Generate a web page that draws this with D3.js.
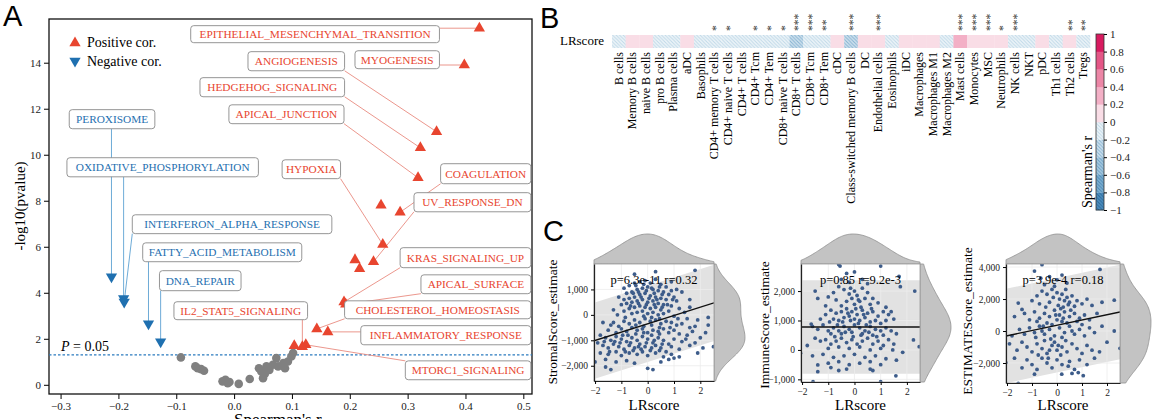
<!DOCTYPE html>
<html>
<head>
<meta charset="utf-8">
<script src="https://cdn.jsdelivr.net/npm/d3@7"></script>
<style>
  body { margin: 0; background: #fff; }
  svg { display: block; font-family: "Liberation Serif", "Times New Roman", serif; }
  svg text { font-family: "Liberation Serif", "Times New Roman", serif; }
  svg text.letter { font-family: "Liberation Sans", Arial, sans-serif; }
</style>
</head>
<body>
<svg id="fig" width="1164" height="419"></svg>
<script>
// ---------- panel A: hallmark gene sets (spearman rho, -log10 p) ----------
const posNames = ['EPITHELIAL_MESENCHYMAL_TRANSITION','MYOGENESIS','ANGIOGENESIS','HEDGEHOG_SIGNALING',
  'APICAL_JUNCTION','COAGULATION','HYPOXIA','UV_RESPONSE_DN','KRAS_SIGNALING_UP','APICAL_SURFACE',
  'CHOLESTEROL_HOMEOSTASIS','INFLAMMATORY_RESPONSE','MTORC1_SIGNALING','IL2_STAT5_SIGNALING','','','',''];
const posRho  = [0.424,0.398,0.350,0.322,0.318,0.287,0.257,0.241,0.190,0.193,0.143,0.162,0.124,0.118,0.254,0.209,0.217,0.104];
const posLogP = [15.5,13.9,11.0,10.3,9.0,7.5,6.1,5.35,3.6,3.5,2.43,2.3,1.74,1.65,7.8,5.43,5.04,1.7];

const negNames = ['PEROXISOME','OXIDATIVE_PHOSPHORYLATION','INTERFERON_ALPHA_RESPONSE','FATTY_ACID_METABOLISM','DNA_REPAIR'];
const negRho  = [-0.212,-0.191,-0.190,-0.148,-0.127];
const negLogP = [4.7,3.75,3.6,2.65,1.87];

const nsRho  = [-0.092,-0.067,-0.063,-0.057,-0.052,-0.020,-0.015,-0.011,-0.008,0.008,0.027,0.043,0.050,
  0.053,0.047,0.056,0.061,0.067,0.073,0.076,0.085,0.088,0.093,0.099,0.102];
const nsLogP = [1.19,0.80,0.72,0.68,0.61,0.15,0.22,0.07,0.12,0.04,0.25,0.72,0.29,
  0.47,0.58,0.80,0.65,0.87,1.16,0.80,0.94,0.72,1.01,1.23,1.38];

const pCut = 0.05;
const xTicksA = [-0.3,-0.2,-0.1,0.0,0.1,0.2,0.3,0.4,0.5];
const yTicksA = [0,2,4,6,8,10,12,14];

// label box layout in data units: [rho left, rho right, top, bottom]
const labelBoxes = {
  EPITHELIAL_MESENCHYMAL_TRANSITION: [-0.075,0.355,15.61,14.87],
  ANGIOGENESIS: [0.024,0.191,14.48,13.65],
  MYOGENESIS: [0.209,0.355,14.52,13.74],
  HEDGEHOG_SIGNALING: [-0.059,0.191,13.35,12.52],
  APICAL_JUNCTION: [-0.009,0.190,12.17,11.35],
  HYPOXIA: [0.083,0.184,9.78,8.96],
  COAGULATION: [0.357,0.513,9.61,8.74],
  UV_RESPONSE_DN: [0.311,0.513,8.35,7.52],
  KRAS_SIGNALING_UP: [0.287,0.513,5.96,5.09],
  APICAL_SURFACE: [0.323,0.513,4.78,3.96],
  CHOLESTEROL_HOMEOSTASIS: [0.191,0.513,3.65,2.87],
  INFLAMMATORY_RESPONSE: [0.219,0.513,2.57,1.74],
  MTORC1_SIGNALING: [0.296,0.513,1.04,0.22],
  IL2_STAT5_SIGNALING: [-0.104,0.127,3.61,2.83],
  PEROXISOME: [-0.285,-0.137,11.96,11.13],
  OXIDATIVE_PHOSPHORYLATION: [-0.289,0.042,9.87,9.04],
  INTERFERON_ALPHA_RESPONSE: [-0.176,0.169,7.39,6.57],
  FATTY_ACID_METABOLISM: [-0.158,0.117,6.17,5.35],
  DNA_REPAIR: [-0.129,0.012,4.96,4.09]
};

// ---------- panel B: LRscore vs immune cell infiltration ----------
const cellTypes = ['B cells','Memory B cells','naive B cells','pro B cells','Plasma cells','aDC','Basophils',
  'CD4+ memory T cells','CD4+ naive T cells','CD4+ T cells','CD4+ Tcm','CD4+ Tem','CD8+ naive T cells',
  'CD8+ T cells','CD8+ Tcm','CD8+ Tem','cDC','Class-switched memory B cells','DC','Endothelial cells',
  'Eosinophils','iDC','Macrophages','Macrophages M1','Macrophages M2','Mast cells','Monocytes','MSC',
  'Neutrophils','NK cells','NKT','pDC','Th1 cells','Th2 cells','Tregs'];
const cellCor = [-0.08,0.06,0.05,-0.07,-0.06,0.05,-0.05,-0.12,-0.11,-0.07,-0.12,-0.12,-0.12,
  -0.22,-0.18,-0.15,0.07,-0.21,0.08,0.17,-0.06,0.08,0.09,0.07,-0.07,0.25,0.17,0.17,
  0.12,-0.17,-0.06,0.08,-0.07,0.14,-0.14];
const cellSig = ['','','','','','','','*','*','','*','*','*','***','***','**','','***','','***',
  '','','','','','***','***','***','*','***','','','','**','**'];
const cbTicks = [-1,-0.8,-0.6,-0.4,-0.2,0,0.2,0.4,0.6,0.8,1];

// ---------- panel C: LRscore vs ESTIMATE scores ----------
const stromalPts = [
  [-0.9,1050],[-0.7,1150],[-0.5,1250],[-0.3,1300],[-0.1,1350],[0.1,1250],[0.3,1400],[0.5,1200],[0.7,1100],[0.9,950],
  [-0.8,850],[-0.6,900],[-0.4,1000],[-0.2,1050],[0,1100],[0.2,1000],[0.4,950],[0.6,900],[0.8,800],[1.0,700],
  [-0.9,600],[-0.7,650],[-0.5,700],[-0.3,800],[-0.1,850],[0.1,750],[0.3,700],[0.5,650],[0.7,600],[1.1,550],
  [-1.0,400],[-0.8,450],[-0.6,500],[-0.4,550],[-0.2,600],[0.0,500],[0.2,550],[0.4,450],[0.6,400],[0.9,350],
  [-0.7,250],[-0.5,300],[-0.3,350],[-0.1,300],[0.1,250],[0.3,300],[0.5,200],[0.8,150],[1.2,250],[1.4,100],
  [-0.6,50],[-0.4,100],[-0.2,150],[0,50],[0.2,100],[0.4,0],[0.6,50],[-0.9,150],[1.0,-50],[1.5,-150],
  [-1.3,-300],[-1.1,-450],[-0.9,-250],[-0.7,-350],[-0.5,-200],[-0.3,-300],[-0.1,-150],[0.1,-250],[0.3,-200],[0.5,-350],
  [0.7,-250],[0.9,-300],[1.1,-400],[1.3,-350],[1.6,-500],[1.8,-450],
  [-1.5,-600],[-1.2,-700],[-1.0,-550],[-0.8,-650],[-0.6,-500],[-0.4,-600],[-0.2,-550],[0,-700],[0.2,-600],[0.4,-650],
  [0.6,-550],[0.8,-700],[1.0,-600],[1.2,-750],[1.5,-800],[1.7,-650],
  [-1.6,-900],[-1.4,-1000],[-1.2,-850],[-1.0,-950],[-0.8,-1050],[-0.6,-900],[-0.4,-1000],[-0.2,-850],[0.0,-950],[0.2,-1100],
  [0.4,-900],[0.6,-1000],[0.8,-1150],[1.0,-950],[1.3,-1050],
  [-1.7,-1200],[-1.5,-1300],[-1.3,-1150],[-1.1,-1250],[-0.9,-1350],[-0.7,-1200],[-0.5,-1300],[-0.3,-1150],[-0.1,-1250],[0.1,-1400],
  [0.3,-1200],[0.5,-1300],[0.7,-1450],[0.9,-1250],[1.2,-1350],
  [-1.8,-1500],[-1.5,-1550],[-1.2,-1450],[-1.0,-1600],[-0.7,-1500],[-0.4,-1550],[-0.2,-1450],[0.0,-1600],[0.3,-1500],[0.6,-1650],[0.9,-1550],
  [-2.0,-1850],[-1.6,-2050],[-1.4,-2150],[-1.6,-1750],[-1.2,-1850],[-0.8,-1800],[-0.5,-1900],[0.0,-2100],[0.2,-2150],[0.5,-1850],
  [0.8,-1750],[1.0,-1700],[1.2,-1650],[1.8,-1100],[2.0,-900],[2.2,-700],[2.3,-100],[2.3,-400],[2.5,-1250],[1.8,1750],
  [1.6,600],[1.9,-200],[-1.7,-300],[-1.9,-1100],[-1.8,-800],[-1.4,-400],[-1.3,200],[1.3,900],[1.6,300],[-0.5,1600],
  [0.3,1700],[0.9,1300],[1.1,1000],[-1.1,700],
  [-0.45,1150],[-0.15,1200],[0.15,1050],[0.45,1100],[-0.35,900],[-0.05,950],[0.25,850],[0.55,800],[-0.55,850],[0.05,650],
  [0.35,600],[-0.25,700],[-0.65,350],[-0.35,450],[-0.05,400],[0.25,400],[0.55,300],[-0.15,-50],[0.15,-100],[0.45,-150],
  [-0.45,-400],[-0.15,-450],[0.15,-400],[0.45,-500],[-0.75,-800],[-0.45,-750],[-0.15,-700],[0.15,-800],[0.45,-750],[-0.95,-800],
  [-0.65,-1100],[-0.35,-1250],[-0.05,-1100],[0.25,-1000],[0.55,-1150],[-1.25,-1050],[-0.85,-1450],[-0.55,-1400],[-0.25,-1350],[0.15,-1300],
  [0.45,-1400],[-1.05,-1100],[0.85,-500],[1.15,-150],[0.75,400],[0.95,600],[-0.85,-100],[-1.15,0],[1.45,-950],[1.6,-1200],
  [2.1,-1300],[1.9,-1500],[-1.45,-1450],[-1.65,-1050]
];
const immunePts = [
  [-0.6,2900],[-0.55,2850],[1.0,2850],[-0.3,2600],[0.0,2650],[0.3,2400],[-0.2,2300],[-0.5,2400],[0.5,2250],[1.7,2500],
  [-1.5,2000],[2.3,2000],[-1.4,1750],[1.75,2150],
  [-0.8,1950],[-0.6,2150],[-0.4,2050],[-0.2,1900],[0.0,2000],[0.1,1850],[0.3,2100],[0.5,1950],[0.7,1750],[-1.0,1800],
  [-0.7,1700],[-0.3,1650],[-0.1,1750],[0.2,1650],[0.4,1750],[0.6,1550],[0.9,1600],[1.2,1450],[1.4,1300],[-1.1,1500],
  [-0.5,1500],[0.0,1550],[0.25,1450],
  [-1.3,1050],[-1.1,1200],[-0.9,1350],[-0.7,1250],[-0.5,1300],[-0.3,1400],[-0.1,1300],[0.1,1200],[0.3,1350],[0.5,1250],
  [0.7,1300],[0.9,1150],[1.1,1300],[1.3,1200],[-0.8,1050],[-0.6,1000],[-0.4,1100],[-0.2,1150],[0.0,1050],[0.2,1000],
  [0.4,1100],[0.6,950],[0.8,1000],[1.0,900],[1.2,1000],[1.5,1050],
  [-1.6,800],[-1.4,700],[-1.2,850],[-1.0,650],[-0.8,750],[-0.6,650],[-0.4,800],[-0.2,700],[0.0,850],[0.2,750],
  [0.4,650],[0.6,800],[0.8,700],[1.0,650],[1.2,750],[1.4,650],[1.6,550],[-0.9,550],[-0.5,550],[-0.1,600],
  [0.3,550],[0.7,500],[1.1,500],[-1.65,880],
  [-1.5,400],[-1.3,300],[-1.1,350],[-0.9,200],[-0.7,300],[-0.5,400],[-0.3,250],[-0.1,350],[0.1,200],[0.3,300],
  [0.5,400],[0.7,200],[0.9,300],[1.1,150],[1.3,350],[1.5,200],[2.25,340],[2.47,110],[-1.8,150],[-1.0,50],
  [-0.6,100],[-0.2,50],[0.2,100],[0.6,0],[1.0,50],[1.46,0],[1.84,-80],
  [-2.06,-110],[-1.6,-200],[-1.2,-150],[-0.8,-250],[-0.4,-200],[0.0,-150],[0.4,-250],[0.8,-200],[1.2,-300],[-1.4,-510],
  [-1.0,-450],[-0.6,-400],[-0.2,-500],[0.2,-450],[0.6,-400],[1.0,-500],[1.6,-350],[-1.4,-740],[-0.6,-700],[-0.3,-650],
  [0.6,-650],[0.7,-700],[-1.58,-1080],[1.0,-1080],[1.58,-880],[-0.9,-600],
  [-0.45,950],[-0.15,1000],[0.15,900],[0.45,850],[-0.35,600],[-0.05,450],[0.25,500],[0.55,600],[-0.25,1250],[0.05,1400],
  [0.35,1200],[-0.65,850],[0.85,450],[-0.75,450],[0.15,1700],[-0.15,2100],[0.65,1400],[-0.95,950]
];
const estimatePts = [
  [-0.6,4150],[-0.9,3750],[1.72,3850],[-0.65,3300],[-0.3,3400],[0.0,3200],[0.4,3000],[-0.5,2900],[0.2,3500],[-0.1,2800],
  [-1.55,1750],[-1.4,1350],[-1.0,1900],[-0.8,2200],[-0.6,2500],[-0.4,2300],[-0.2,2600],[0.0,2400],[0.1,2000],[0.2,2300],
  [0.3,1900],[0.4,2100],[0.5,1800],[0.6,2200],[0.8,1900],[1.0,1700],[1.2,2000],[1.4,1600],[1.8,1800],[2.29,1930],
  [-0.7,1700],[-0.3,1800],[0.05,1600],[0.25,1500],[0.45,1650],[0.7,1550],
  [-1.7,900],[-1.3,1100],[-1.1,700],[-0.9,1200],[-0.7,800],[-0.5,1100],[-0.3,900],[-0.1,1300],[0.1,1000],[0.3,1200],
  [0.5,900],[0.7,1100],[0.9,800],[1.1,1000],[1.3,700],[1.6,1100],[-0.8,600],[-0.4,500],[0.0,700],[0.2,600],
  [0.4,500],[0.8,600],[1.0,400],[-0.2,400],
  [-1.8,-300],[-1.5,100],[-1.3,-200],[-1.1,200],[-0.9,-100],[-0.7,300],[-0.5,-200],[-0.3,100],[-0.1,-300],[0.1,200],
  [0.3,-100],[0.5,300],[0.7,-200],[0.9,100],[1.1,-300],[1.3,200],[1.5,-100],[1.8,300],[2.29,0],[-0.6,0],
  [0.2,-400],[0.6,0],
  [-1.9,-800],[-1.6,-1200],[-1.4,-700],[-1.2,-1000],[-1.0,-1300],[-0.8,-800],[-0.6,-1100],[-0.4,-1400],[-0.2,-900],[0.0,-1200],
  [0.2,-1000],[0.4,-1300],[0.6,-800],[0.8,-1100],[1.0,-1400],[1.2,-900],[1.4,-1200],[1.7,-1300],[2.0,-700],[2.52,-1080],
  [-0.5,-600],[-0.1,-700],[-0.3,-1200],
  [-2.05,-1980],[-1.7,-1700],[-1.4,-2300],[-1.2,-1800],[-1.0,-2100],[-0.8,-2400],[-0.6,-1700],[-0.4,-2000],[-0.2,-2300],[0.0,-1800],
  [0.2,-2100],[0.19,-2700],[0.5,-1900],[0.7,-2400],[0.9,-1800],[1.05,-2790],[1.2,-2100],[1.5,-1700],[-1.55,-3270],[-0.9,-2700],
  [0.85,-2600],[0.6,-2650],
  [-0.45,1500],[-0.15,2100],[0.15,1400],[0.35,2600],[0.55,1300],[-0.55,300],[-0.25,-500],[0.05,-900],[0.35,-600],[-0.75,-1500],
  [-0.35,-1700],[0.15,-1500],[0.45,-2200],[-0.05,1000],[0.25,800],[-0.85,-400]
];
// fitted line (intercept, slope) and band half width
const stromalFit = [-353, 327, 1500];
const immuneFit = [780, 0, 1590];
const estimateFit = [361, 329, 2950];
const stromalStat = 'p=6.3e-11 r=0.32';
const immuneStat = 'p=0.85 r=9.2e-3';
const estimateStat = 'p=3.9e-4 r=0.18';
const lrTicks = [-2,-1,0,1,2];

const RED = '#e8452f', BLUE = '#1f70b0';
const SERIF = '"Liberation Serif", "Times New Roman", serif';
const svg = d3.select('#fig');
const defs = svg.append('defs');
svg.append('rect').attr('width',1164).attr('height',419).attr('fill','#fff');

function panelLetter(t, x, y){
  svg.append('text').attr('class','letter').attr('x',x).attr('y',y).text(t).attr('font-size',29);
}
function serifTicks(g, size){
  g.attr('font-family', SERIF);
  g.selectAll('text').style('font-family', SERIF).attr('font-size', size).attr('fill','#222');
}

// =================== A ===================
const xA = d3.scaleLinear().domain([-0.32,0.515]).range([49,532]);
const yA = d3.scaleLinear().domain([-0.4,15.9]).range([394,19]);
const gA = svg.append('g');
panelLetter('A', 3, 26);

gA.append('g').attr('transform','translate(0,394)')
  .call(d3.axisBottom(xA).tickValues(xTicksA).tickFormat(d3.format('.1f')).tickSize(5).tickSizeOuter(0))
  .call(g => g.select('.domain').remove())
  .call(g => serifTicks(g, 11));
gA.append('g').attr('transform','translate(49,0)')
  .call(d3.axisLeft(yA).tickValues(yTicksA).tickSize(5).tickSizeOuter(0))
  .call(g => g.select('.domain').remove())
  .call(g => serifTicks(g, 11));
gA.append('rect').attr('x',49).attr('y',19).attr('width',532-49).attr('height',394-19)
  .attr('fill','none').attr('stroke','#111').attr('stroke-width',1.3);

gA.append('text').attr('transform','translate(25,206) rotate(-90)').attr('text-anchor','middle')
  .attr('font-size',15).text('-log10(pvalue)');
gA.append('text').attr('x',234).attr('y',425).attr('font-size',17).text("Spearman's r");

// significance line
const yCut = yA(-Math.log10(pCut));
gA.append('line').attr('x1',49).attr('x2',532).attr('y1',yCut).attr('y2',yCut)
  .attr('stroke','#2b7bbf').attr('stroke-width',1.1).attr('stroke-dasharray','2.5,2');
const pt = gA.append('text').attr('x',61).attr('y',yCut-4).attr('font-size',14);
pt.append('tspan').attr('font-style','italic').text('P');
pt.append('tspan').text(' = ' + pCut.toFixed(2));

// points
const posData = posNames.map((n,i)=>({name:n, x:posRho[i], y:posLogP[i], col:RED, up:true}));
const negData = negNames.map((n,i)=>({name:n, x:negRho[i], y:negLogP[i], col:BLUE, up:false}));
const nsData = nsRho.map((r,i)=>({x:r, y:nsLogP[i]}));

// connectors from the nearest box edge to the point, then boxes
const lineGroup = gA.append('g');
const labGroup = gA.append('g');
posData.concat(negData).filter(d => d.name && labelBoxes[d.name]).forEach(d => {
  const b = labelBoxes[d.name];
  const x0 = xA(b[0]), x1 = xA(b[1]), y0 = yA(b[2]), y1 = yA(b[3]);
  const px = xA(d.x), py = yA(d.y);
  const nx = Math.max(x0, Math.min(x1, px)), ny = Math.max(y0, Math.min(y1, py));
  lineGroup.append('line').attr('x1',nx).attr('y1',ny).attr('x2',px).attr('y2',py)
    .attr('stroke', d.up ? '#e98b80' : '#5ea2d2').attr('stroke-width',0.9);
  labGroup.append('rect').attr('x',x0).attr('y',y0).attr('width',x1-x0).attr('height',y1-y0)
    .attr('rx',3).attr('fill','#fff').attr('stroke','#8a8a8a').attr('stroke-width',0.9);
  labGroup.append('text').attr('x',(x0+x1)/2).attr('y',(y0+y1)/2+4).attr('text-anchor','middle')
    .attr('font-size',11.3).attr('fill',d.col).text(d.name);
});

gA.append('g').selectAll('circle').data(nsData).join('circle')
  .attr('cx',d=>xA(d.x)).attr('cy',d=>yA(d.y)).attr('r',4.3).attr('fill','#808080');
const tri = d3.symbol().type(d3.symbolTriangle).size(55);
gA.append('g').selectAll('path').data(posData.concat(negData)).join('path')
  .attr('d', tri)
  .attr('transform', d => `translate(${xA(d.x)},${yA(d.y)}) rotate(${d.up?0:180})`)
  .attr('fill', d => d.col);
labGroup.raise();

// legend
gA.append('path').attr('d',tri).attr('transform','translate(75,43)').attr('fill',RED);
gA.append('text').attr('x',87).attr('y',47).attr('font-size',14).text('Positive cor.');
gA.append('path').attr('d',tri).attr('transform','translate(75,61) rotate(180)').attr('fill',BLUE);
gA.append('text').attr('x',87).attr('y',66).attr('font-size',14).text('Negative cor.');

// =================== B ===================
panelLetter('B', 540, 28);
const gB = svg.append('g');
const xB = d3.scaleBand().domain(cellTypes).range([612,1090]);
const hmTop = 35, hmBot = 48;

const posCols = ['#f9dde6','#f3b0c6','#ec86a6','#e45686','#d81b60'];
const negBg   = ['#eef5f9','#d0e2ee','#abcce1','#80b1d1','#4f8fbf'];
const negLine = ['#bfd8e8','#86b3d2','#6aa0c6','#4a88b6','#2a6a9c'];
negBg.forEach((c,i) => {
  const p = defs.append('pattern').attr('id','hatch'+i).attr('patternUnits','userSpaceOnUse')
    .attr('width',3.5).attr('height',3.5);
  p.append('rect').attr('width',3.5).attr('height',3.5).attr('fill',c);
  p.append('path').attr('d','M-1,-1 L4.5,4.5 M-1,2.5 L1,4.5 M2.5,-1 L4.5,1')
    .attr('stroke',negLine[i]).attr('stroke-width',1);
});
const bin = v => Math.min(4, Math.floor(Math.abs(v)/0.2 + 1e-9));
const fillFor = v => v >= 0 ? posCols[bin(v)] : `url(#hatch${bin(v)})`;

gB.selectAll('rect.cell').data(cellTypes).join('rect').attr('class','cell')
  .attr('x', d => xB(d)).attr('y', hmTop).attr('width', xB.bandwidth()+0.3).attr('height', hmBot-hmTop)
  .attr('fill', (d,i) => fillFor(cellCor[i]));
gB.append('text').attr('x',604).attr('y',45).attr('text-anchor','end').attr('font-size',13).text('LRscore');
gB.selectAll('text.cl').data(cellTypes).join('text').attr('class','cl')
  .attr('transform', d => `translate(${xB(d)+xB.bandwidth()/2+4},52) rotate(-90)`)
  .attr('text-anchor','end').attr('font-size',12).text(d => d);
gB.selectAll('text.sig').data(cellTypes).join('text').attr('class','sig')
  .attr('transform', d => `translate(${xB(d)+xB.bandwidth()/2+6},31) rotate(-90)`)
  .attr('text-anchor','start').attr('font-size',11.5).attr('fill','#333')
  .text((d,i) => cellSig[i]);

// colour bar
const yCb = d3.scaleLinear().domain([-1,1]).range([210,34]);
const cbBins = d3.range(10).map(i => -1 + i*0.2);
gB.selectAll('rect.cb').data(cbBins).join('rect').attr('class','cb')
  .attr('x',1096).attr('width',8).attr('y', d => yCb(d+0.2)).attr('height', d => yCb(d)-yCb(d+0.2)+0.3)
  .attr('fill', d => fillFor(d+0.1));
gB.append('rect').attr('x',1096).attr('y',34).attr('width',8).attr('height',176)
  .attr('fill','none').attr('stroke','#333').attr('stroke-width',0.8);
gB.append('g').attr('transform','translate(1104,0)')
  .call(d3.axisRight(yCb).tickValues(cbTicks).tickSize(3).tickFormat(d => d === 0 ? '0' : d3.format('.1~f')(d)))
  .call(g => g.select('.domain').remove())
  .call(g => serifTicks(g, 11));
gB.append('text').attr('transform','translate(1092,172) rotate(-90)').attr('text-anchor','middle')
  .attr('font-size',14).text("Spearman's r");

// =================== C ===================
panelLetter('C', 543, 241);

function kde(values, bw, grid){
  return grid.map(g => [g, d3.mean(values, v => Math.exp(-0.5*((g-v)/bw)**2))]);
}

function scatterPanel(o){
  const x = d3.scaleLinear().domain(o.xDom).range([o.left,o.right]);
  const y = d3.scaleLinear().domain(o.yDom).range([o.bottom,o.top]);
  const g = svg.append('g');
  const cid = 'clip'+o.id;
  defs.append('clipPath').attr('id',cid).append('rect')
    .attr('x',o.left).attr('y',o.top).attr('width',o.right-o.left).attr('height',o.bottom-o.top);

  // marginal densities
  const xs = o.pts.map(d=>d[0]), ys = o.pts.map(d=>d[1]);
  const gx = d3.range(101).map(i => o.xDom[0] + i*(o.xDom[1]-o.xDom[0])/100);
  const gy = d3.range(101).map(i => o.yDom[0] + i*(o.yDom[1]-o.yDom[0])/100);
  const dX = kde(xs, 0.42, gx), dY = kde(ys, o.bwY, gy);
  const mX = d3.max(dX, d=>d[1]), mY = d3.max(dY, d=>d[1]);
  g.append('path').datum(dX)
    .attr('d', d3.area().x(d=>x(d[0])).y0(o.top).y1(d=>o.top - d[1]/mX*30).curve(d3.curveBasis))
    .attr('fill','#c3c3c3').attr('stroke','#8f8f8f').attr('stroke-width',0.8);
  g.append('path').datum(dY)
    .attr('d', d3.area().y(d=>y(d[0])).x0(o.right).x1(d=>o.right + d[1]/mY*31).curve(d3.curveBasis))
    .attr('fill','#c3c3c3').attr('stroke','#8f8f8f').attr('stroke-width',0.8);

  const inner = g.append('g').attr('clip-path',`url(#${cid})`);
  inner.append('rect').attr('x',o.left).attr('y',o.top).attr('width',o.right-o.left).attr('height',o.bottom-o.top).attr('fill','#fff');
  const f = v => o.fit[0] + o.fit[1]*v;
  const band = [[o.xDom[0], f(o.xDom[0])+o.fit[2]], [o.xDom[1], f(o.xDom[1])+o.fit[2]],
                [o.xDom[1], f(o.xDom[1])-o.fit[2]], [o.xDom[0], f(o.xDom[0])-o.fit[2]]];
  inner.append('path').attr('d', d3.line().x(d=>x(d[0])).y(d=>y(d[1]))(band)+'Z').attr('fill','#e2e2e2');
  inner.selectAll('line.gx').data(lrTicks).join('line').attr('class','gx')
    .attr('x1',d=>x(d)).attr('x2',d=>x(d)).attr('y1',o.top).attr('y2',o.bottom)
    .attr('stroke','#ececec').attr('stroke-width',0.8);
  inner.selectAll('line.gy').data(o.yTicks).join('line').attr('class','gy')
    .attr('y1',d=>y(d)).attr('y2',d=>y(d)).attr('x1',o.left).attr('x2',o.right)
    .attr('stroke','#ececec').attr('stroke-width',0.8);
  g.append('text').attr('x',(o.left+o.right)/2).attr('y',o.top+20).attr('text-anchor','middle')
    .attr('font-size',12.5).text(o.stat);
  inner.selectAll('circle').data(o.pts).join('circle')
    .attr('cx',d=>x(d[0])).attr('cy',d=>y(d[1])).attr('r',1.9).attr('fill','#3d5c8a');
  inner.append('line').attr('x1',x(o.xDom[0])).attr('x2',x(o.xDom[1]))
    .attr('y1',y(f(o.xDom[0]))).attr('y2',y(f(o.xDom[1]))).attr('stroke','#111').attr('stroke-width',1.4);

  g.append('rect').attr('x',o.left).attr('y',o.top).attr('width',o.right-o.left).attr('height',o.bottom-o.top)
    .attr('fill','none').attr('stroke','#9c9c9c').attr('stroke-width',0.8);
  g.append('g').attr('transform',`translate(0,${o.bottom})`)
    .call(d3.axisBottom(x).tickValues(lrTicks).tickFormat(d3.format('d')).tickSize(3).tickSizeOuter(0))
    .call(a => serifTicks(a, 9.5));
  g.append('g').attr('transform',`translate(${o.left},0)`)
    .call(d3.axisLeft(y).tickValues(o.yTicks).tickSize(3).tickSizeOuter(0).tickFormat(d3.format(',')))
    .call(a => serifTicks(a, 9.5));
  g.selectAll('.domain').attr('stroke','#222').attr('stroke-width',1.2);
  g.append('text').attr('x',(o.left+o.right)/2).attr('y',410).attr('text-anchor','middle')
    .attr('font-size',15).text('LRscore');
  g.append('text').attr('transform',`translate(${o.labX},${o.labY}) rotate(-90)`).attr('text-anchor','middle')
    .attr('font-size',13.5).text(o.ylab);
}

scatterPanel({id:1, pts:stromalPts, left:594, right:714, top:264, bottom:381,
  xDom:[-2.04,2.52], yDom:[-2600,2000], yTicks:[-2000,-1000,0,1000], fit:stromalFit, bwY:420,
  stat:stromalStat, ylab:'StromalScore_estimate', labX:557, labY:322});
scatterPanel({id:2, pts:immunePts, left:801, right:920, top:264, bottom:382,
  xDom:[-2.04,2.5], yDom:[-1090,2920], yTicks:[-1000,0,1000,2000], fit:immuneFit, bwY:380,
  stat:immuneStat, ylab:'ImmuneScore_estimate', labX:769, labY:325});
scatterPanel({id:3, pts:estimatePts, left:1006, right:1120, top:264, bottom:383,
  xDom:[-2.04,2.52], yDom:[-3250,4190], yTicks:[-2000,0,2000,4000], fit:estimateFit, bwY:700,
  stat:estimateStat, ylab:'ESTIMATEScore_estimate', labX:972, labY:321});
</script>
</body>
</html>
